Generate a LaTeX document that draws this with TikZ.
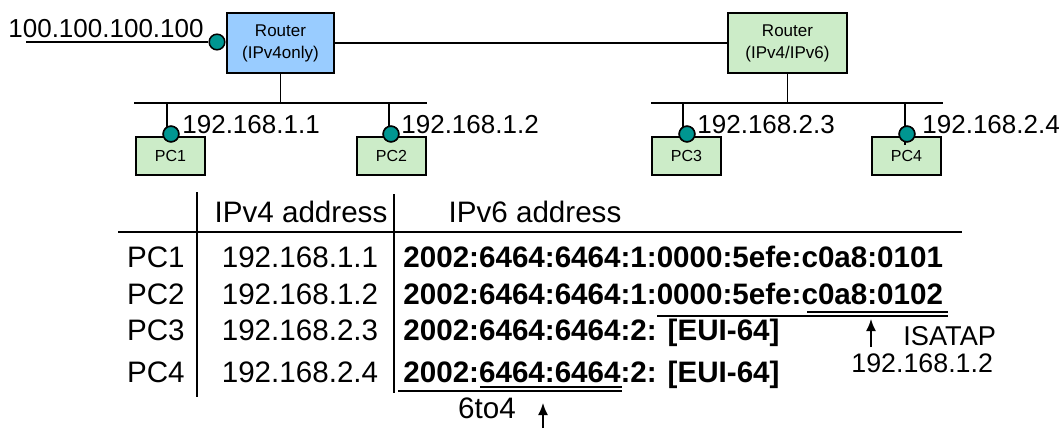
\documentclass[tikz,border=0pt]{standalone}
\usepackage{fontspec}
\setmainfont{Liberation Sans}
\usetikzlibrary{arrows.meta}

\definecolor{routerblue}{RGB}{153,204,255}
\definecolor{boxgreen}{RGB}{204,236,200}
\definecolor{portteal}{RGB}{0,150,145}

\tikzset{
  router/.style={draw, line width=1pt, minimum width=53.5pt, minimum height=30pt,
    align=center, inner sep=0pt, font=\fontsize{8.5}{11}\selectfont},
  pcbox/.style={draw, line width=1pt, fill=boxgreen, minimum width=34.5pt,
    minimum height=19pt, inner sep=0pt, font=\fontsize{8}{10}\selectfont},
  port/.style={circle, draw, line width=0.75pt, fill=portteal, minimum size=7.8pt, inner sep=0pt},
  addr/.style={inner sep=0pt, font=\fontsize{13}{15}\selectfont},
  cell/.style={inner sep=0pt, font=\fontsize{14.8}{17}\selectfont},
  vsix/.style={inner sep=0pt, font=\fontsize{14.8}{17}\selectfont\bfseries},
  wire/.style={line width=0.75pt},
  pointer/.style={line width=0.8pt, -{Latex[length=6pt,width=5pt]}},
}

\begin{document}
\begin{tikzpicture}[x=0.5pt, y=-0.5pt]
    \useasboundingbox (0,0) rectangle (1062,430);

    % routers and the wan side
    \node[router, fill=routerblue] (r1) at (280.5,43) {Router\\(IPv4only)};
    \node[router, fill=boxgreen, minimum width=59.5pt] (r2) at (787.5,43) {Router\\(IPv4/IPv6)};
    \node[port] (port0) at (217,42) {};
    \coordinate (wan) at (26,42);
    \node[addr, anchor=base west] (wanaddr) at (8,37) {100.100.100.100};

    \draw[wire] (wan) -- (port0);
    \draw[wire] (r1.east) -- (r2.west);

    % the two lans
    \coordinate (bus1w) at (134,103);
    \coordinate (bus1e) at (427,103);
    \coordinate (bus2w) at (651,103);
    \coordinate (bus2e) at (943,103);
    \draw[wire] (bus1w) -- (bus1e);
    \draw[wire] (bus2w) -- (bus2e);
    \draw[wire] (r1.south) -- (r1.south |- bus1w);
    \draw[wire] (r2.south) -- (r2.south |- bus2w);

    \node[pcbox] (pc1) at (170.5,156) {PC1};
    \node[pcbox] (pc2) at (391.5,156) {PC2};
    \node[pcbox] (pc3) at (686.5,156) {PC3};
    \node[pcbox] (pc4) at (906.5,156) {PC4};

    \node[port] (p1) at (171,134) {};
    \node[port] (p2) at (391,134) {};
    \node[port] (p3) at (687,134) {};
    \node[port] (p4) at (907,134) {};

    \draw[wire] ([xshift=-2pt]p1 |- bus1w) -- ([xshift=-2pt]p1.center);
    \draw[wire] ([xshift=-1pt]p2 |- bus1w) -- ([xshift=-1pt]p2.center);
    \draw[wire] ([xshift=-2pt]p3 |- bus2w) -- ([xshift=-2pt]p3.center);
    \draw[wire] ([xshift=-1pt]p4 |- bus2w) -- ([xshift=-1pt,yshift=-5.5pt]p4.center);
    \node[port] at (p1) {};
    \node[port] at (p2) {};
    \node[port] at (p3) {};
    \node[port] at (p4) {};

    \node[addr, anchor=base west] (a1) at (182,133) {192.168.1.1};
    \node[addr, anchor=base west] (a2) at (401,133) {192.168.1.2};
    \node[addr, anchor=base west] (a3) at (697,133) {192.168.2.3};
    \node[addr, anchor=base west] (a4) at (922,133) {192.168.2.4};

    % address table
    \draw[wire] (118,232) -- (962,232);
    \draw[wire] (197,192) -- (197,397);
    \draw[wire] (394,194) -- (394,393);

    \node[cell, anchor=base] (hv4) at (301,222) {IPv4 address};
    \node[cell, anchor=base] (hv6) at (535,222) {IPv6 address};

    \node[cell, anchor=base east] (n1) at (185,267) {PC1};
    \node[cell, anchor=base east] (n2) at (185,304) {PC2};
    \node[cell, anchor=base east] (n3) at (185,340) {PC3};
    \node[cell, anchor=base east] (n4) at (185,382) {PC4};

    \node[cell, anchor=base] (v4a) at (300,267) {192.168.1.1};
    \node[cell, anchor=base] (v4b) at (300,304) {192.168.1.2};
    \node[cell, anchor=base] (v4c) at (300,340) {192.168.2.3};
    \node[cell, anchor=base] (v4d) at (300,382) {192.168.2.4};

    \node[vsix, anchor=base west] (v6a) at (403,267) {2002:6464:6464:1:0000:5efe:c0a8:0101};
    \node[vsix, anchor=base west] (v6b) at (403,304) {2002:6464:6464:1:0000:5efe:c0a8:0102};
    \node[vsix, anchor=base west] (v6c) at (403,340) {2002:6464:6464:2: [EUI-64]};
    \node[vsix, anchor=base west] (v6d) at (403,382) {2002:6464:6464:2: [EUI-64]};

    % isatap marks
    \draw[wire] (807,312) -- (948,312);
    \draw[wire] (657,316) -- (948,316);
    \coordinate (isafoot) at (871,347);
    \coordinate (isahead) at (871,319);
    \draw[pointer] (isafoot) -- (isahead);
    \node[addr, anchor=base west, font=\fontsize{13.6}{15}\selectfont] (isatap) at (903,345) {ISATAP};
    \node[addr, anchor=base west, font=\fontsize{13.4}{15}\selectfont] (isaaddr) at (851,372) {192.168.1.2};

    % 6to4 marks
    \draw[wire] (480,387) -- (622,387);
    \draw[wire] (398,391) -- (622,391);
    \coordinate (sixfoot) at (543,428);
    \coordinate (sixhead) at (543,403);
    \draw[pointer] (sixfoot) -- (sixhead);
    \node[cell, anchor=base] (sixtofour) at (487,418) {6to4};
\end{tikzpicture}
\end{document}
